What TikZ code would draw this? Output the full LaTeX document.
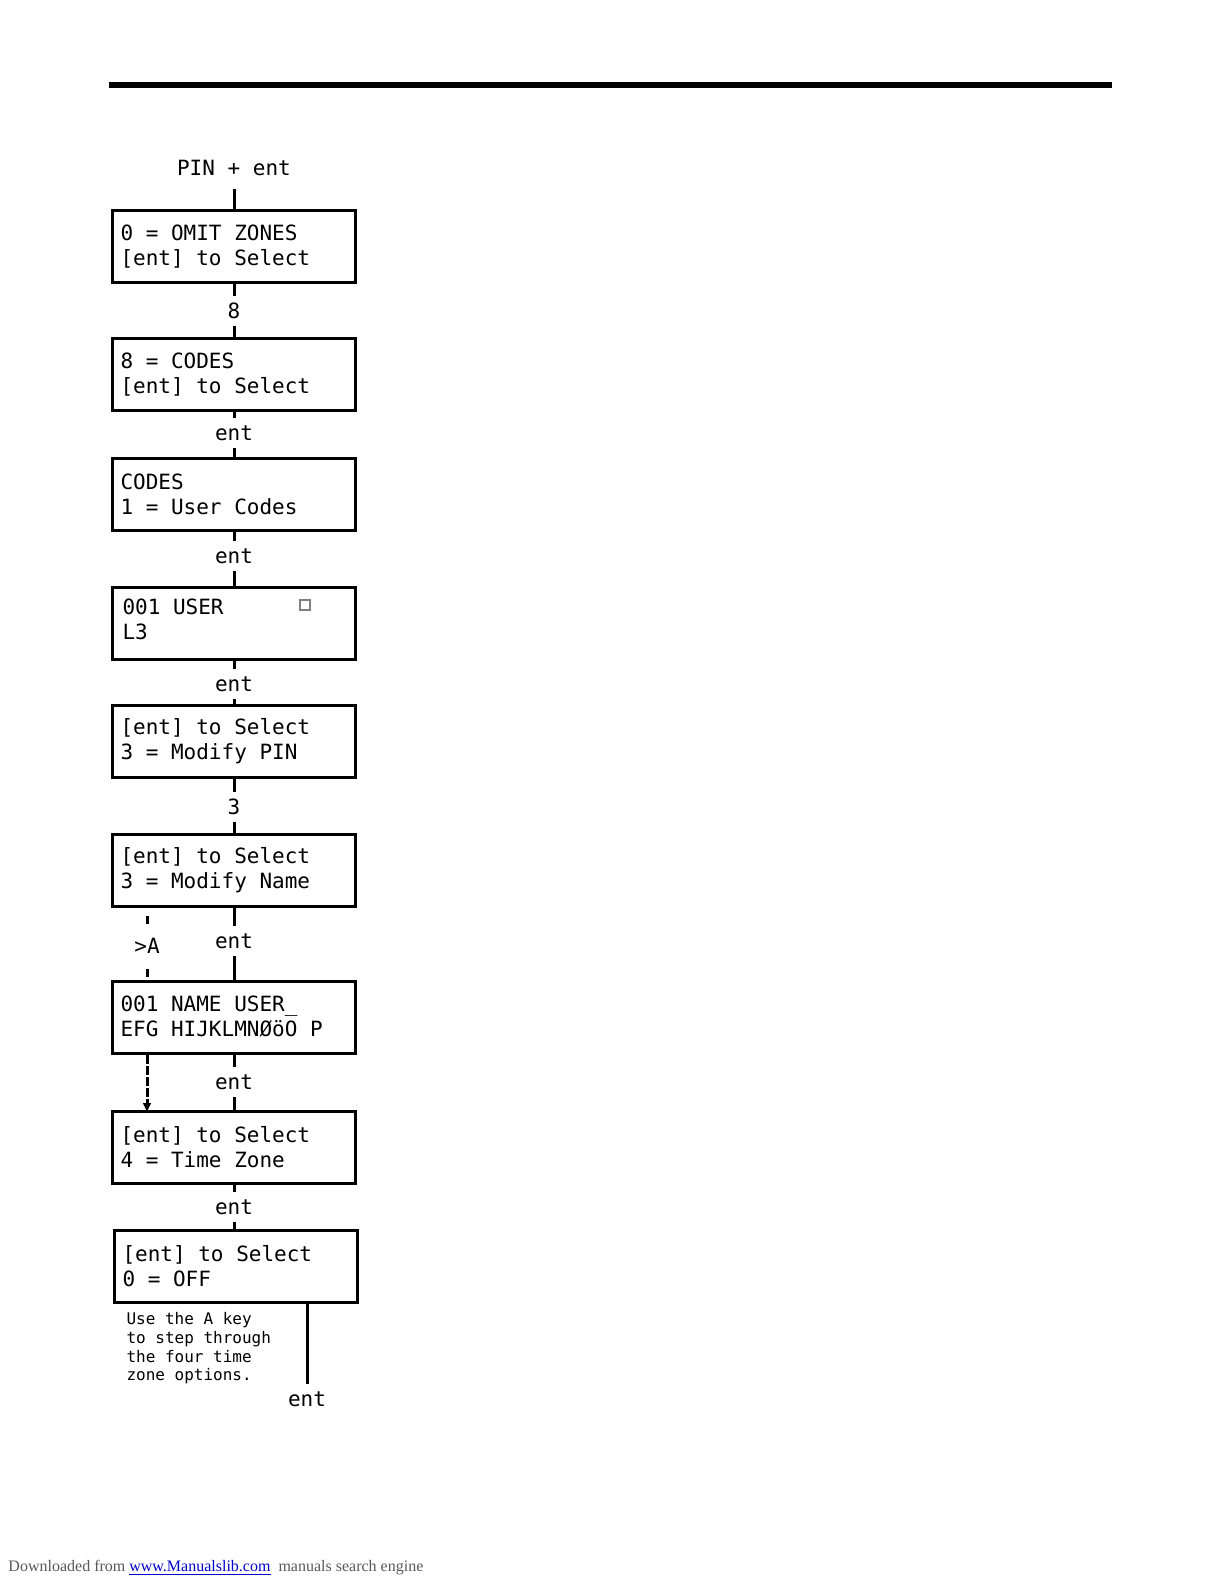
\documentclass[tikz,border=0pt]{standalone}
\usepackage{fontspec}
\setmainfont{Liberation Serif}
\newfontfamily\lcdfont{DejaVu Sans Mono}
\usetikzlibrary{arrows.meta}

\begin{document}
\begin{tikzpicture}[x=0.5pt, y=-0.5pt, line width=1.5pt,
	every node/.style={font=\lcdfont\fontsize{10.5}{12.5}\selectfont},
	lcd/.style={draw, rectangle, minimum width=121.5pt, minimum height=36pt, text width=113.5pt, align=left, inner xsep=4pt, inner ysep=0pt,
		execute at begin node={\spaceskip=\fontdimen2\font\xspaceskip=\fontdimen2\font\relax}},
	keylbl/.style={inner sep=3pt},
	note/.style={font=\lcdfont\fontsize{8}{9.35}\selectfont, align=left, inner sep=0pt, anchor=north west},
	shortdash/.style={dash pattern=on 4pt off 4pt, dash phase=4pt},
	densedash/.style={dash pattern=on 4.5pt off 1pt},
	>={Latex[length=5pt, width=4.5pt]}]
	\useasboundingbox (0,0) rectangle (1224,1584);
	\draw[line width=3pt] (109,85.5) -- (1112,85.5);
	\node[keylbl, inner ysep=6pt] (pin) at (234,168) {PIN + ent};
	\node[lcd] (b1) at (234,246.5) {0 = OMIT ZONES\\{}[ent] to Select};
	\node[keylbl] (k1) at (234,311) {8};
	\node[lcd] (b2) at (234,374.5) {8 = CODES\\{}[ent] to Select};
	\node[keylbl] (k2) at (234,433) {ent};
	\node[lcd] (b3) at (234,494.5) {CODES\\1 = User Codes};
	\node[keylbl] (k3) at (234,556) {ent};
	\node[lcd, text depth=16.5pt] (b4) at (234,623) {\hspace{1pt}001 USER\\\hspace{1pt}L3};
	\node[draw=gray, line width=0.6pt, minimum size=5pt, inner sep=0pt] (sq) at (305,605) {};
	\node[keylbl] (k4) at (234,684) {ent};
	\node[lcd] (b5) at (234,741.5) {{[ent]} to Select\\3 = Modify PIN};
	\node[keylbl] (k5) at (234,807) {3};
	\node[lcd] (b6) at (234,870.5) {{[ent]} to Select\\3 = Modify Name};
	\node[keylbl] (k6) at (234,941) {ent};
	\node[keylbl] (ka) at (147,946) {>A};
	\node[lcd] (b7) at (234,1017) {001 NAME USER\_\\EFG HIJKLMNØöO P};
	\node[keylbl] (k7) at (234,1082) {ent};
	\node[lcd] (b8) at (234,1147.5) {{[ent]} to Select\\4 = Time Zone};
	\node[keylbl] (k8) at (234,1207) {ent};
	\node[lcd] (b9) at (236,1266) {{[ent]} to Select\\0 = OFF};
	\node[note] (nt) at (125,1311) {Use the A key\\to step through\\the four time\\zone options.};
	\node[keylbl] (k9) at (307,1399) {ent};

	\draw (pin) -- (b1);
	\draw (b1) -- (k1);
	\draw (k1) -- (b2);
	\draw (b2) -- (k2);
	\draw (k2) -- (b3);
	\draw (b3) -- (k3);
	\draw (k3) -- (b4);
	\draw (b4) -- (k4);
	\draw (k4) -- (b5);
	\draw (b5) -- (k5);
	\draw (k5) -- (b6);
	\draw (b6) -- (k6);
	\draw (k6) -- (b7);
	\draw (b7) -- (k7);
	\draw (k7) -- (b8);
	\draw (b8) -- (k8);
	\draw (k8) -- (b8 |- b9.north);
	\draw (b9.south -| k9) -- (k9);
	\draw[shortdash] (b6.south -| ka) -- (ka);
	\draw[shortdash] (ka) -- (b7.north -| ka);
	\draw[densedash, ->] (b7.south -| ka) -- ([yshift=-1.5pt]b8.north -| ka);

	\node[font=\rmfamily\fontsize{8}{9.6}\selectfont, anchor=base west, inner sep=0pt] (dl) at (7,1571)
		{\color{gray!70!black}Downloaded from \textcolor{blue!80!black}{\underline{www.Manualslib.com}}\ \ manuals search engine};
\end{tikzpicture}
\end{document}
